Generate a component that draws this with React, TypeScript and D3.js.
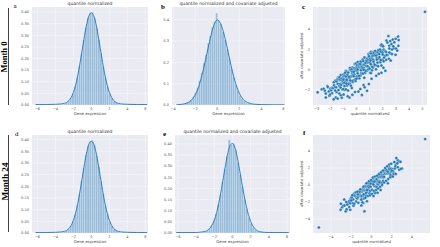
import React from "react";
import * as d3 from "d3";

// ---------- histogram data (density per bin) ----------
const histA = { start: -6.0, width: 0.24 };
const heightsA = [
  0.0003, 0.0002, 0.0002, 0.0002, 0.0003, 0.0003, 0.0004, 0.0005, 0.0007, 0.0009, 0.0013, 0.0022,
  0.0046, 0.0088, 0.0172, 0.0301, 0.0497, 0.0795, 0.1176, 0.1672, 0.2218, 0.2806, 0.3337, 0.3752, 0.3968,
  0.3991, 0.3748, 0.3322, 0.2815, 0.2224, 0.1665, 0.1183, 0.0789, 0.0502, 0.0298, 0.0171, 0.0091,
  0.0045, 0.0022, 0.0012, 0.0008, 0.0005, 0.0004, 0.0003, 0.0003, 0.0002, 0.0002, 0.0002, 0.0002, 0.0003,
];
const kdeAX = [-6.2, -5, -4, -3.5, -3, -2.75, -2.5, -2.25, -2, -1.75, -1.5, -1.25, -1, -0.75, -0.5, -0.25, 0, 0.25, 0.5, 0.75, 1, 1.25, 1.5, 1.75, 2, 2.25, 2.5, 2.75, 3, 3.5, 4, 5, 6.2];
const kdeAY = [0.002, 0.002, 0.003, 0.004, 0.007, 0.011, 0.019, 0.032, 0.054, 0.086, 0.129, 0.182, 0.241, 0.300, 0.351, 0.386, 0.397, 0.385, 0.352, 0.301, 0.242, 0.183, 0.130, 0.087, 0.055, 0.033, 0.019, 0.011, 0.007, 0.004, 0.003, 0.002, 0.002];

const histB = { start: -3.6, width: 0.192 };
const heightsB = [
  0.001, 0.002, 0.003, 0.005, 0.010, 0.016, 0.025, 0.040, 0.058, 0.082, 0.115, 0.152, 0.197, 0.235, 0.291,
  0.324, 0.366, 0.392, 0.432, 0.397, 0.381, 0.343, 0.306, 0.261, 0.219, 0.171, 0.131, 0.094, 0.068, 0.046,
  0.030, 0.019, 0.012, 0.008, 0.005, 0.003, 0.002, 0.0015, 0.001, 0.001, 0.0008, 0.0006, 0.0005, 0.0005,
  0.0004, 0.0004, 0.0003, 0.0003, 0.0003, 0.0004,
];
const kdeBX = [-3.7, -3.25, -3, -2.75, -2.5, -2.25, -2, -1.75, -1.5, -1.25, -1, -0.75, -0.5, -0.25, 0, 0.25, 0.5, 0.75, 1, 1.25, 1.5, 1.75, 2, 2.25, 2.5, 2.75, 3, 3.5, 4, 5, 6.1];
const kdeBY = [0.001, 0.003, 0.005, 0.009, 0.016, 0.028, 0.047, 0.076, 0.117, 0.168, 0.226, 0.284, 0.340, 0.381, 0.399, 0.388, 0.355, 0.305, 0.246, 0.186, 0.133, 0.089, 0.056, 0.034, 0.020, 0.012, 0.007, 0.003, 0.002, 0.001, 0.001];

const histD = { start: -6.0, width: 0.24 };
const heightsD = [
  0.0003, 0.0003, 0.0002, 0.0002, 0.0002, 0.0003, 0.0004, 0.0004, 0.0006, 0.0009, 0.0014, 0.0024,
  0.0048, 0.0091, 0.0168, 0.0306, 0.0508, 0.0781, 0.1192, 0.1654, 0.2236, 0.2789, 0.3358, 0.3731, 0.3942,
  0.3978, 0.3771, 0.3305, 0.2833, 0.2205, 0.1682, 0.1171, 0.0801, 0.0493, 0.0305, 0.0166, 0.0094,
  0.0047, 0.0023, 0.0013, 0.0008, 0.0006, 0.0004, 0.0003, 0.0003, 0.0002, 0.0002, 0.0002, 0.0003, 0.0003,
];
const kdeDX = kdeAX;
const kdeDY = [0.002, 0.002, 0.003, 0.004, 0.007, 0.011, 0.019, 0.032, 0.054, 0.086, 0.128, 0.181, 0.240, 0.298, 0.348, 0.383, 0.393, 0.382, 0.349, 0.299, 0.241, 0.182, 0.129, 0.087, 0.055, 0.033, 0.019, 0.011, 0.007, 0.004, 0.003, 0.002, 0.002];

const histE = { start: -6.0, width: 0.24 };
const heightsE = [
  0.0004, 0.0003, 0.0003, 0.0003, 0.0003, 0.0004, 0.0004, 0.0005, 0.0007, 0.0010, 0.0018, 0.0035,
  0.006, 0.011, 0.020, 0.034, 0.055, 0.085, 0.128, 0.172, 0.230, 0.288, 0.345, 0.418, 0.396,
  0.402, 0.372, 0.318, 0.262, 0.208, 0.152, 0.108, 0.070, 0.044, 0.026, 0.015, 0.009,
  0.005, 0.003, 0.0018, 0.0012, 0.0008, 0.0006, 0.0005, 0.0004, 0.0004, 0.0003, 0.0003, 0.0003, 0.0004,
];
const kdeEX = kdeAX;
const kdeEY = [0.002, 0.002, 0.002, 0.004, 0.007, 0.012, 0.021, 0.036, 0.058, 0.091, 0.135, 0.189, 0.249, 0.309, 0.361, 0.394, 0.402, 0.385, 0.345, 0.290, 0.231, 0.174, 0.124, 0.083, 0.052, 0.031, 0.018, 0.010, 0.006, 0.003, 0.002, 0.002, 0.002];

// ---------- scatter data: [quantile normalized, after covariate adjusted] ----------
const scatterCUpper: [number, number][] = [
  [-2.93,-2.21],[-2.62,-1.93],[-2.47,-1.86],[-2.38,-2.07],[-2.31,-2.33],[-2.19,-1.61],[-2.16,-1.69],[-2.08,-2.13],[-1.98,-1.96],[-1.96,-1.85],
  [-1.91,-2.02],[-1.87,-1.80],[-1.83,-1.81],[-1.76,-1.81],[-1.71,-1.24],[-1.68,-1.53],[-1.62,-1.71],[-1.58,-1.06],[-1.53,-1.72],[-1.49,-1.11],
  [-1.46,-1.10],[-1.41,-1.38],[-1.37,-0.75],[-1.33,-0.91],[-1.29,-1.58],[-1.26,-1.02],[-1.22,-1.40],[-1.18,-0.51],[-1.15,-1.01],[-1.11,-1.03],
  [-1.07,-0.82],[-1.04,-1.19],[-1.01,-1.33],[-0.97,-0.48],[-0.95,-0.65],[-0.91,-1.24],[-0.88,-0.97],[-0.86,-0.58],[-0.82,-1.13],[-0.79,-0.10],
  [-0.76,-0.21],[-0.72,-0.81],[-0.69,-1.06],[-0.67,-0.54],[-0.63,-0.76],[-0.61,-0.64],[-0.57,-0.74],[-0.54,-0.75],[-0.52,-0.85],[-0.49,-0.02],
  [-0.45,0.05],[-0.42,-0.67],[-0.40,0.08],[-0.36,0.19],[-0.33,-0.17],[-0.31,-0.36],[-0.27,0.23],[-0.24,-0.31],[-0.21,0.12],[-0.18,-0.06],
  [-0.15,-0.45],[-0.12,-0.10],[-0.09,-0.01],[-0.06,0.20],[-0.03,0.62],[0.01,0.16],[0.04,0.28],[0.07,-0.09],[0.10,0.04],[0.13,0.52],
  [0.16,0.34],[0.19,0.44],[0.22,0.26],[0.26,0.75],[0.29,0.20],[0.32,0.45],[0.35,0.07],[0.38,0.17],[0.42,0.52],[0.45,0.07],
  [0.48,1.00],[0.51,0.22],[0.55,0.45],[0.58,0.19],[0.61,1.23],[0.64,1.18],[0.68,0.51],[0.71,0.42],[0.74,0.95],[0.78,1.03],
  [0.81,1.11],[0.85,0.96],[0.88,0.72],[0.91,1.54],[0.95,1.53],[0.98,1.17],[1.02,1.64],[1.05,0.68],[1.09,1.58],[1.12,1.78],
  [1.16,1.24],[1.20,1.11],[1.24,1.73],[1.28,0.98],[1.31,1.74],[1.35,1.68],[1.39,1.64],[1.43,1.39],[1.47,1.55],[1.52,1.79],
  [1.56,1.47],[1.61,1.73],[1.65,1.87],[1.70,1.83],[1.75,1.60],[1.80,1.81],[1.85,2.40],[1.90,2.36],[1.96,1.90],[2.02,2.34],
  [2.08,1.98],[2.14,1.87],[2.21,1.82],[2.28,2.87],[2.35,2.68],[2.43,3.31],[2.49,2.37],[2.57,2.83],[2.66,2.52],[2.76,2.98],
  [2.88,2.71],[2.98,3.05],[3.16,3.28],[3.20,2.92],
];
const scatterCCore: [number, number][] = [
  [-1.52,-1.14],[-1.45,-0.95],[-1.39,-0.90],[-1.33,-0.83],[-1.27,-0.75],[-1.21,-0.96],[-1.15,-1.51],[-1.09,-0.92],[-1.03,-1.05],[-0.97,-0.97],
  [-0.91,-1.29],[-0.85,-0.29],[-0.79,-0.67],[-0.73,-0.99],[-0.67,-0.50],[-0.61,-0.28],[-0.55,-0.69],[-0.49,0.18],[-0.43,-0.01],[-0.37,0.02],
  [-0.31,-0.19],[-0.25,-0.55],[-0.19,-0.19],[-0.13,0.56],[-0.07,0.58],[-0.01,0.64],[0.05,0.46],[0.11,0.77],[0.17,0.53],[0.23,0.57],
  [0.29,0.57],[0.35,0.80],[0.41,0.27],[0.47,0.15],[0.53,0.86],[0.59,0.52],[0.65,0.64],[0.71,0.70],[0.77,0.89],[0.83,1.08],
  [0.89,0.99],[0.95,1.33],[1.01,1.03],[1.07,0.90],[1.13,1.59],[1.19,1.36],[1.25,1.41],[1.31,1.64],[1.37,1.43],[1.43,1.84],
  [1.49,1.39],[1.55,1.18],[1.61,1.74],[1.67,1.93],[1.73,1.54],[1.79,2.00],[1.85,1.79],[1.91,2.48],[1.97,1.70],[2.03,2.32],
];
const scatterCLower: [number, number][] = [
  [-1.72,-2.90],[-1.55,-2.72],[-1.41,-2.84],[-1.28,-2.33],[-1.17,-2.51],[-1.05,-1.94],[-0.96,-2.43],[-0.88,-1.98],[-0.79,-1.91],[-0.71,-1.54],
  [-0.63,-2.04],[-0.55,-1.31],[-0.48,-1.38],[-0.41,-1.58],[-0.34,-1.81],[-0.27,-1.20],[-0.20,-1.03],[-0.13,-0.98],[-0.06,-1.11],[0.02,-0.67],
  [0.09,-0.82],[0.16,-0.61],[0.23,-0.84],[0.31,-0.56],[0.38,-0.32],[0.45,-0.38],[0.52,-0.37],[0.60,-0.80],[0.67,-0.29],[0.74,-0.10],
  [0.82,-0.07],[0.89,0.05],[0.96,0.22],[1.04,-0.30],[1.11,-0.33],[1.19,-0.05],[1.26,0.21],[1.34,0.58],[1.41,0.45],[1.49,0.04],
  [1.57,0.41],[1.65,0.34],[1.73,1.06],[1.81,0.73],[1.90,0.41],[1.98,0.98],[2.07,0.84],[2.16,1.37],[2.26,0.97],[2.36,1.44],
  [2.47,1.08],[2.58,1.62],[2.70,1.55],[2.83,2.11],[2.97,1.47],[3.10,1.88],[3.18,2.36],
];
const scatterCStray: [number, number][] = [
  [-2.31,-2.72],[-2.05,-2.55],[-1.84,-2.31],[-0.52,-2.74],[0.42,-2.48],[0.81,-2.08],[0.63,-1.72],[-0.30,-1.10],[0.20,-0.60],[0.70,-0.10],
  [1.20,0.30],[1.60,0.70],[2.10,1.20],[2.50,1.70],[-1.00,-1.90],[-1.50,-2.20],[0.00,-0.90],[-0.60,-1.40],[1.00,0.10],[1.40,0.50],
  [1.85,0.95],[2.30,1.45],[2.70,2.00],[-0.10,-2.20],[0.30,-1.90],[1.50,-0.60],[1.90,-0.30],[2.20,-0.10],[0.95,-1.40],[5.20,5.70],
  [-2.00,-2.45],[-1.60,-2.05],[-1.35,-2.00],[-1.20,-1.75],[-0.90,-1.60],[-0.75,-1.35],[-0.45,-1.05],[-0.20,-0.65],[0.10,-0.35],[0.35,-0.05],
  [0.55,0.00],[0.85,0.35],[1.10,0.55],[1.30,0.80],[1.55,1.00],[1.75,1.25],[2.00,1.50],[2.25,1.75],[2.50,2.10],[2.80,2.30],
  [-0.30,-2.45],[0.15,-2.15],[0.55,-1.50],[1.15,-0.90],[1.70,-0.40],[2.05,0.20],[2.60,0.90],[3.00,2.10],[-1.10,-2.75],[-0.65,-2.60],
];

const scatterF: [number, number][] = [
  [-3.05,-2.91],[-2.90,-2.61],[-2.78,-2.44],[-2.66,-2.41],[-2.55,-3.10],[-2.45,-2.85],[-2.36,-2.25],[-2.28,-1.99],[-2.20,-1.88],[-2.13,-2.16],
  [-2.06,-1.65],[-1.99,-1.45],[-1.93,-1.49],[-1.87,-2.14],[-1.81,-1.70],[-1.75,-1.03],[-1.70,-1.08],[-1.65,-1.26],[-1.60,-0.92],[-1.55,-0.87],
  [-1.50,-1.50],[-1.45,-1.35],[-1.41,-1.58],[-1.37,-1.34],[-1.33,-1.40],[-1.29,-1.17],[-1.25,-0.71],[-1.21,-0.88],[-1.17,-0.92],[-1.13,-1.14],
  [-1.09,-1.30],[-1.05,-1.25],[-1.01,-1.35],[-0.97,-1.30],[-0.93,-0.76],[-0.89,-0.59],[-0.85,-0.54],[-0.81,-2.13],[-0.77,-1.25],[-0.73,-0.53],
  [-0.69,-0.62],[-0.65,-1.23],[-0.61,-0.10],[-0.57,-0.61],[-0.53,-1.27],[-0.49,-0.21],[-0.45,-0.49],[-0.41,-0.84],[-0.37,-0.16],[-0.33,-0.53],
  [-0.29,0.18],[-0.25,-0.31],[-0.21,-0.08],[-0.17,-0.95],[-0.13,-0.67],[-0.09,-0.20],[-0.05,0.30],[-0.01,0.31],[0.03,0.37],[0.07,-0.57],
  [0.11,0.23],[0.15,0.72],[0.19,0.43],[0.23,0.30],[0.27,-0.11],[0.31,-0.85],[0.35,-0.94],[0.39,0.61],[0.43,0.57],[0.47,0.45],
  [0.51,0.69],[0.55,0.16],[0.59,0.08],[0.63,0.49],[0.67,0.08],[0.71,0.91],[0.75,1.31],[0.79,0.46],[0.83,0.22],[0.87,0.34],
  [0.91,1.16],[0.95,0.92],[0.99,1.21],[1.03,0.26],[1.07,1.62],[1.11,0.98],[1.15,0.49],[1.19,1.20],[1.23,1.54],[1.27,1.55],
  [1.31,1.46],[1.35,1.45],[1.39,1.31],[1.43,1.71],[1.47,1.72],[1.52,1.38],[1.57,1.38],[1.62,0.20],[1.67,1.43],[1.72,1.78],
  [1.77,2.06],[1.83,1.29],[1.89,1.15],[1.95,1.57],[2.01,1.91],[2.08,1.55],[2.15,1.63],[2.23,1.39],[2.31,1.95],[2.40,2.42],
  [2.50,2.60],[2.61,2.90],[2.73,2.75],[2.87,2.72],[3.02,1.95],
  [-2.40,-2.30],[-2.00,-1.83],[-1.78,-2.43],[-1.52,-1.94],[-1.35,-1.09],[-1.19,-0.78],[-1.03,-1.74],[-0.91,-2.02],[-0.79,-1.09],[-0.67,-0.19],
  [-0.55,-0.93],[-0.43,-0.59],[-0.31,0.26],[-0.19,-1.00],[-0.07,0.16],[0.05,0.44],[0.17,0.08],[0.29,0.40],[0.41,-0.19],[0.53,-0.23],
  [0.65,1.08],[0.77,0.33],[0.89,0.98],[1.01,1.00],[1.13,0.95],[1.25,0.95],[1.37,1.79],[1.49,1.75],[1.61,1.58],[1.74,1.87],
  [1.87,1.85],[2.00,1.68],[2.18,1.30],[2.36,2.20],[2.55,2.55],
  [-2.50,-2.00],[-2.20,-2.60],[-1.90,-1.20],[-1.70,-2.20],[-1.40,-0.80],[-1.30,-2.10],[-1.10,-0.50],[-1.00,-1.70],[-0.80,-0.20],[-0.75,-1.60],
  [-0.60,-1.50],[-0.50,0.20],[-0.35,-1.30],[-0.25,0.45],[-0.15,-1.20],[-0.05,0.60],[0.05,-1.05],[0.15,0.90],[0.25,-0.70],[0.35,1.00],
  [0.45,-0.60],[0.55,1.10],[0.65,-0.40],[0.75,1.25],[0.85,-0.20],[0.95,1.50],[1.05,0.00],[1.15,1.70],[1.25,0.30],[1.35,2.00],
  [1.45,0.50],[1.55,2.20],[1.65,0.70],[1.75,2.40],[1.85,0.90],[1.95,2.50],[2.10,1.00],[2.25,2.70],[2.40,1.30],[2.60,2.10],
  [2.75,1.80],[-2.70,-1.70],[-0.45,-1.90],[0.60,-0.90],
  [-0.70,-3.08],[-3.02,-2.20],[2.45,3.18],[-2.10,-2.90],[0.20,-1.30],[0.90,-0.60],[-1.00,-2.40],[2.92,1.92],
  [5.30,5.40],[-5.20,-5.00],
];

// ---------- tick labels ----------
const ticksA_X = [-6, -4, -2, 0, 2, 4, 6];
const ticksA_Y = [0, 0.05, 0.1, 0.15, 0.2, 0.25, 0.3, 0.35, 0.4];
const ticksB_X = [-4, -2, 0, 2, 4, 6];
const ticksB_Y = [0, 0.1, 0.2, 0.3, 0.4];
const ticksC_X = [-3, -2, -1, 0, 1, 2, 3, 4, 5];
const ticksC_Y = [-2, 0, 2, 4];
const ticksE_X = [-6, -4, -2, 0, 2, 4, 6];
const ticksF_X = [-4, -2, 0, 2, 4];
const ticksF_Y = [-4, -2, 0, 2, 4];

const BG = "#eaeaf2";
const BLUE = "#1f77b4";
const TICK = "#555";
const SANS = "DejaVu Sans, sans-serif";
const SERIF = "Liberation Serif, Times New Roman, serif";

type Box = { x0: number; x1: number; y0: number; y1: number };

const intFmt = (t: number) => d3.format("d")(t).replace("-", "−");

function Frame({ box, xs, ys, xTicks, yTicks, yFmt, xFmt, xLabel, yLabel, title }: any) {
  const { x0, x1, y0, y1 } = box as Box;
  return (
    <g>
      <rect x={x0} y={y0} width={x1 - x0} height={y1 - y0} fill={BG} />
      {xTicks.map((t: number) => (
        <line key={"gx" + t} x1={xs(t)} x2={xs(t)} y1={y0} y2={y1} stroke="#fff" strokeWidth={0.6} strokeDasharray="1.6 0.9" />
      ))}
      {yTicks.map((t: number) => (
        <line key={"gy" + t} x1={x0} x2={x1} y1={ys(t)} y2={ys(t)} stroke="#fff" strokeWidth={0.6} strokeDasharray="1.6 0.9" />
      ))}
      {xTicks.map((t: number) => (
        <text key={"tx" + t} x={xs(t)} y={y1 + 5.3} fontSize={3.6} fontFamily={SANS} fill={TICK} textAnchor="middle">
          {xFmt(t)}
        </text>
      ))}
      {yTicks.map((t: number) => (
        <text key={"ty" + t} x={x0 - 3} y={ys(t) + 1.3} fontSize={3.6} fontFamily={SANS} fill={TICK} textAnchor="end">
          {yFmt(t)}
        </text>
      ))}
      {xLabel && (
        <text x={(x0 + x1) / 2} y={y1 + 9.8} fontSize={3.9} fontFamily={SANS} fill="#444" textAnchor="middle">
          {xLabel}
        </text>
      )}
      {yLabel && (
        <text transform={`translate(${x0 - 10},${(y0 + y1) / 2}) rotate(-90)`} fontSize={3.9} fontFamily={SANS} fill="#444" textAnchor="middle">
          {yLabel}
        </text>
      )}
      {title && (
        <text x={(x0 + x1) / 2} y={y0 - 1.6} fontSize={4.5} fontFamily={SANS} fill="#333" textAnchor="middle">
          {title}
        </text>
      )}
    </g>
  );
}

function Hist({ id, box, xd, yd, xTicks, yTicks, yFmt, bins, heights, kdeX, kdeY, title }: any) {
  const { x0, x1, y0, y1 } = box as Box;
  const xs = d3.scaleLinear().domain(xd).range([x0, x1]);
  const ys = d3.scaleLinear().domain(yd).range([y1, y0]);
  const line = d3
    .line<number>()
    .x((_, i) => xs(kdeX[i]))
    .y((d) => ys(d))
    .curve(d3.curveMonotoneX);
  return (
    <g>
      <defs>
        <clipPath id={id}>
          <rect x={x0} y={y0} width={x1 - x0} height={y1 - y0} />
        </clipPath>
      </defs>
      <Frame box={box} xs={xs} ys={ys} xTicks={xTicks} yTicks={yTicks} yFmt={yFmt} xFmt={intFmt} xLabel="Gene expression" title={title} />
      <g clipPath={`url(#${id})`}>
        {heights.map((h: number, i: number) => {
          const a = xs(bins.start + i * bins.width);
          const b = xs(bins.start + (i + 1) * bins.width);
          return <rect key={i} x={a} y={ys(h)} width={b - a} height={ys(0) - ys(h)} fill={BLUE} fillOpacity={0.4} stroke="#eef2f8" strokeWidth={0.25} />;
        })}
        <path d={line(kdeY) || ""} fill="none" stroke={BLUE} strokeWidth={0.9} />
      </g>
    </g>
  );
}

function Scatter({ box, xd, yd, xTicks, yTicks, groups }: any) {
  const { x0, x1, y0, y1 } = box as Box;
  const xs = d3.scaleLinear().domain(xd).range([x0, x1]);
  const ys = d3.scaleLinear().domain(yd).range([y1, y0]);
  const pts: [number, number][] = ([] as [number, number][]).concat(...groups);
  return (
    <g>
      <Frame box={box} xs={xs} ys={ys} xTicks={xTicks} yTicks={yTicks} yFmt={intFmt} xFmt={intFmt} xLabel="quantile normalized" yLabel="after covariate adjusted" />
      {pts.map((p, i) => (
        <circle key={i} cx={xs(p[0])} cy={ys(p[1])} r={1.5} fill={BLUE} stroke="#fff" strokeWidth={0.3} />
      ))}
    </g>
  );
}

export default function App() {
  const f2 = (t: number) => d3.format(".2f")(t);
  const f1 = (t: number) => d3.format(".1f")(t);
  return (
    <svg width={440} height={247} style={{ position: "absolute", left: 0, top: 0, background: "#fff" }}>
      {/* row labels */}
      <line x1={8.5} x2={8.5} y1={8} y2={105} stroke="#111" strokeWidth={0.8} />
      <text transform="translate(7.4,57) rotate(-90)" fontSize={8.5} fontWeight="bold" fontFamily={SERIF} textAnchor="middle" fill="#000">
        Month 0
      </text>
      <line x1={8.5} x2={8.5} y1={135} y2={232} stroke="#111" strokeWidth={0.8} />
      <text transform="translate(7.6,181.5) rotate(-90)" fontSize={9.2} fontWeight="bold" fontFamily={SERIF} textAnchor="middle" fill="#000">
        Month 24
      </text>

      {/* panel letters */}
      <text x={13.5} y={8} fontSize={7} fontFamily={SERIF} fill="#000">a</text>
      <text x={161} y={9} fontSize={7} fontWeight="bold" fontFamily={SERIF} fill="#000">b</text>
      <text x={302} y={9} fontSize={7} fontWeight="bold" fontFamily={SERIF} fill="#000">c</text>
      <text x={15} y={135.5} fontSize={7} fontFamily={SERIF} fill="#000">d</text>
      <text x={163} y={135.5} fontSize={7} fontWeight="bold" fontFamily={SERIF} fill="#000">e</text>
      <text x={303} y={134.5} fontSize={7} fontWeight="bold" fontFamily={SERIF} fill="#000">f</text>

      <Hist id="ca" box={{ x0: 32, x1: 148, y0: 7, y1: 105 }} xd={[-6.6, 6.3]} yd={[0, 0.422]} xTicks={ticksA_X} yTicks={ticksA_Y} yFmt={f2}
        bins={histA} heights={heightsA} kdeX={kdeAX} kdeY={kdeAY} title="quantile normalized" />
      <Hist id="cb" box={{ x0: 172, x1: 285, y0: 7, y1: 105 }} xd={[-4.1, 6.15]} yd={[0, 0.46]} xTicks={ticksB_X} yTicks={ticksB_Y} yFmt={f1}
        bins={histB} heights={heightsB} kdeX={kdeBX} kdeY={kdeBY} title="quantile normalized and covariate adjusted" />
      <Scatter box={{ x0: 313, x1: 427, y0: 7, y1: 105 }} xd={[-3.28, 5.35]} yd={[-3.47, 6.17]} xTicks={ticksC_X} yTicks={ticksC_Y}
        groups={[scatterCUpper, scatterCCore, scatterCLower, scatterCStray]} />

      <Hist id="cd" box={{ x0: 32, x1: 148, y0: 135, y1: 233 }} xd={[-6.6, 6.3]} yd={[0, 0.42]} xTicks={ticksA_X} yTicks={ticksA_Y} yFmt={f2}
        bins={histD} heights={heightsD} kdeX={kdeDX} kdeY={kdeDY} title="quantile normalized" />
      <Hist id="ce" box={{ x0: 175, x1: 290, y0: 135, y1: 233 }} xd={[-6.33, 6.33]} yd={[0, 0.44]} xTicks={ticksE_X} yTicks={ticksA_Y} yFmt={f2}
        bins={histE} heights={heightsE} kdeX={kdeEX} kdeY={kdeEY} title="quantile normalized and covariate adjusted" />
      <Scatter box={{ x0: 313, x1: 430, y0: 135, y1: 233 }} xd={[-5.78, 5.78]} yd={[-5.65, 5.88]} xTicks={ticksF_X} yTicks={ticksF_Y}
        groups={[scatterF]} />
    </svg>
  );
}
